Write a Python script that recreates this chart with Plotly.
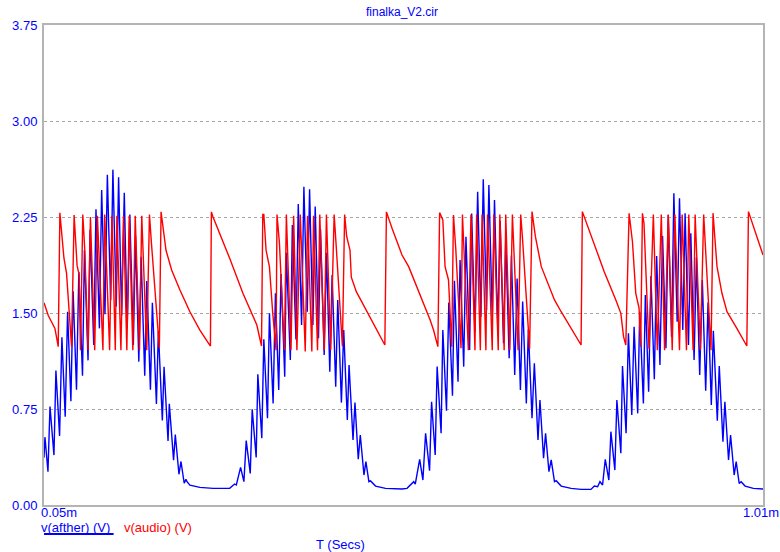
import plotly.graph_objects as go

# ---------------- data (time in ms, voltage in V) ----------------
# v(afther) - blue
blue_t_1 = [0.0500, 0.0513, 0.0553, 0.0580, 0.0633, 0.0659, 0.0708, 0.0739, 0.0783, 0.0815,
            0.0859, 0.0889, 0.0934, 0.0965, 0.1014, 0.1040, 0.1088, 0.1115, 0.1164, 0.1194,
            0.1240, 0.1270, 0.1314, 0.1346, 0.1390, 0.1420, 0.1465, 0.1496, 0.1536, 0.1572,
            0.1611, 0.1646, 0.1693, 0.1722, 0.1766, 0.1797, 0.1845, 0.1872, 0.1921, 0.1947,
            0.2001, 0.2027, 0.2080, 0.2103, 0.2156, 0.2173, 0.2230, 0.2253, 0.2302, 0.2329,
            0.2372, 0.2395, 0.2412, 0.2448, 0.2581, 0.2757]
blue_v_1 = [0.37, 0.53, 0.26, 0.77, 0.39, 1.05, 0.54, 1.31, 0.69, 1.51,
            0.81, 1.67, 0.90, 1.82, 1.01, 1.99, 1.13, 2.15, 1.25, 2.31,
            1.38, 2.46, 1.49, 2.58, 1.60, 2.62, 1.55, 2.56, 1.48, 2.44,
            1.38, 2.27, 1.25, 2.10, 1.12, 1.94, 1.01, 1.75, 0.90, 1.58,
            0.79, 1.36, 0.66, 1.08, 0.50, 0.79, 0.35, 0.55, 0.24, 0.34,
            0.17, 0.20, 0.18, 0.155, 0.138, 0.130]

blue_t_2 = [0.2979, 0.3045, 0.3068, 0.3125, 0.3169, 0.3200, 0.3254, 0.3280, 0.3333, 0.3355,
            0.3408, 0.3435, 0.3484, 0.3510, 0.3559, 0.3590, 0.3634, 0.3665, 0.3714, 0.3736,
            0.3789, 0.3816, 0.3864, 0.3895, 0.3939, 0.3970, 0.4015, 0.4046, 0.4090, 0.4121,
            0.4165, 0.4192, 0.4241, 0.4272, 0.4316, 0.4347, 0.4395, 0.4422, 0.4471, 0.4502,
            0.4550, 0.4573, 0.4626, 0.4652, 0.4696, 0.4723, 0.4772, 0.4798, 0.4838, 0.4860,
            0.4927, 0.5060, 0.5281]
blue_v_2 = [0.130, 0.164, 0.156, 0.294, 0.182, 0.503, 0.247, 0.747, 0.372, 1.021,
            0.521, 1.294, 0.677, 1.497, 0.794, 1.654, 0.898, 1.805, 1.003, 1.971,
            1.133, 2.187, 1.294, 2.351, 1.406, 2.487, 1.510, 2.466, 1.406, 2.331,
            1.302, 2.154, 1.172, 1.971, 1.042, 1.797, 0.924, 1.602, 0.800, 1.367,
            0.664, 1.094, 0.508, 0.800, 0.357, 0.547, 0.234, 0.339, 0.182, 0.188,
            0.148, 0.130, 0.125]

blue_t_3 = [0.5347, 0.5436, 0.5457, 0.5516, 0.5559, 0.5595, 0.5648, 0.5675, 0.5723, 0.5749,
            0.5802, 0.5825, 0.5874, 0.5905, 0.5954, 0.5980, 0.6028, 0.6055, 0.6104, 0.6134,
            0.6183, 0.6210, 0.6254, 0.6290, 0.6333, 0.6365, 0.6409, 0.6440, 0.6485, 0.6515,
            0.6559, 0.6591, 0.6635, 0.6665, 0.6711, 0.6741, 0.6785, 0.6817, 0.6861, 0.6891,
            0.6940, 0.6967, 0.7016, 0.7047, 0.7096, 0.7122, 0.7170, 0.7197, 0.7242, 0.7272,
            0.7316, 0.7339, 0.7405, 0.7538]
blue_v_3 = [0.130, 0.182, 0.164, 0.357, 0.195, 0.560, 0.268, 0.807, 0.391, 1.081,
            0.560, 1.367, 0.737, 1.581, 0.854, 1.752, 0.963, 1.914, 1.081, 2.096,
            1.211, 2.278, 1.354, 2.448, 1.471, 2.544, 1.523, 2.500, 1.471, 2.383,
            1.380, 2.220, 1.263, 2.080, 1.146, 1.950, 1.016, 1.770, 0.898, 1.590,
            0.794, 1.370, 0.677, 1.107, 0.508, 0.820, 0.365, 0.560, 0.260, 0.352,
            0.182, 0.190, 0.148, 0.130]

blue_t_4 = [0.7671, 0.7803, 0.7848, 0.7892, 0.7923, 0.7958, 0.7994, 0.8042, 0.8069, 0.8122,
            0.8149, 0.8202, 0.8224, 0.8272, 0.8303, 0.8348, 0.8379, 0.8427, 0.8454, 0.8503,
            0.8529, 0.8573, 0.8604, 0.8649, 0.8680, 0.8724, 0.8759, 0.8804, 0.8835, 0.8879,
            0.8910, 0.8954, 0.8985, 0.9029, 0.9060, 0.9105, 0.9136, 0.9180, 0.9211, 0.9255,
            0.9290, 0.9335, 0.9366, 0.9410, 0.9437, 0.9490, 0.9516, 0.9565, 0.9591, 0.9640,
            0.9667, 0.9715, 0.9742, 0.9782, 0.9808, 0.9861, 0.9972, 1.0100]
blue_v_4 = [0.122, 0.122, 0.148, 0.143, 0.182, 0.156, 0.357, 0.195, 0.573, 0.273,
            0.820, 0.404, 1.086, 0.560, 1.341, 0.703, 1.393, 0.716, 1.510, 0.794,
            1.641, 0.885, 1.789, 0.982, 1.945, 1.094, 2.102, 1.224, 2.266, 1.315,
            2.435, 1.432, 2.396, 1.367, 2.279, 1.250, 2.122, 1.133, 1.935, 1.016,
            1.758, 0.893, 1.581, 0.781, 1.362, 0.659, 1.086, 0.495, 0.807, 0.352,
            0.547, 0.234, 0.339, 0.169, 0.182, 0.148, 0.130, 0.125]

# v(audio) - red
red_t_1 = [0.0500, 0.0557, 0.0646, 0.0690, 0.0712, 0.0766, 0.0801, 0.0832, 0.0868, 0.0902,
           0.0942, 0.0969, 0.0987, 0.1018, 0.1044, 0.1088, 0.1120, 0.1177, 0.1213, 0.1287,
           0.1310, 0.1376, 0.1407, 0.1452, 0.1473, 0.1527, 0.1562, 0.1606, 0.1638, 0.1686,
           0.1718, 0.1775, 0.1805, 0.1872, 0.1908, 0.1934, 0.1987, 0.2040]
red_v_1 = [1.58, 1.48, 1.38, 1.237, 2.283, 1.93, 1.81, 1.55, 1.237, 2.266,
           1.87, 1.80, 1.21, 2.27, 2.00, 1.21, 2.25, 1.21, 2.26, 1.21,
           2.27, 1.21, 2.26, 1.21, 2.26, 1.21, 2.26, 1.21, 2.26, 1.21,
           2.26, 1.21, 2.26, 1.21, 2.27, 2.05, 1.65, 1.227]

red_t_2 = [0.2063, 0.2093, 0.2129, 0.2204, 0.2315, 0.2448, 0.2581, 0.2722, 0.2735, 0.2757,
           0.2979, 0.3156, 0.3289, 0.3342, 0.3368, 0.3404, 0.3421, 0.3435, 0.3465, 0.3510,
           0.3554, 0.3598, 0.3611, 0.3643, 0.3710, 0.3736, 0.3797, 0.3833, 0.3877, 0.3922,
           0.3988, 0.4019, 0.4076, 0.4099, 0.4152, 0.4182, 0.4241, 0.4271, 0.4328, 0.4374,
           0.4404, 0.4484]
red_v_2 = [2.29, 2.148, 1.99, 1.836, 1.68, 1.51, 1.367, 1.242, 2.29, 2.25,
           1.927, 1.654, 1.471, 1.406, 1.336, 1.242, 2.27, 2.27, 1.99, 1.86,
           1.50, 1.21, 2.27, 2.05, 1.21, 2.27, 1.21, 2.26, 1.21, 2.27,
           1.20, 2.26, 1.20, 2.26, 1.21, 2.27, 1.21, 2.27, 1.21, 2.27,
           2.00, 1.24]

red_t_3 = [0.4514, 0.4541, 0.4586, 0.4603, 0.4670, 0.4926, 0.5051, 0.5072, 0.5148, 0.5280,
           0.5369, 0.5656, 0.5701, 0.5759, 0.5782, 0.5825, 0.5855, 0.5901, 0.5944, 0.5967,
           0.5998, 0.6068, 0.6087, 0.6166, 0.6201, 0.6254, 0.6276, 0.6326, 0.6349, 0.6400,
           0.6422, 0.6485, 0.6506, 0.6565, 0.6586, 0.6644, 0.6665, 0.6719, 0.6754, 0.6830,
           0.6865, 0.6887, 0.6927, 0.6984]
red_v_3 = [2.27, 2.10, 1.99, 1.78, 1.667, 1.393, 1.25, 2.29, 2.16, 1.953,
           1.862, 1.445, 1.367, 1.237, 2.284, 2.227, 1.862, 1.758, 1.237, 2.266,
           2.00, 1.224, 2.27, 1.21, 2.27, 1.21, 2.27, 1.21, 2.27, 1.21,
           2.27, 1.21, 2.27, 1.21, 2.27, 1.21, 2.27, 1.21, 2.27, 1.21,
           2.27, 2.10, 1.75, 1.22]

red_t_4 = [0.7016, 0.7060, 0.7140, 0.7316, 0.7405, 0.7538, 0.7671, 0.7688, 0.7847, 0.7980,
           0.8135, 0.8202, 0.8238, 0.8268, 0.8312, 0.8357, 0.8401, 0.8445, 0.8467, 0.8490,
           0.8511, 0.8578, 0.8636, 0.8689, 0.8742, 0.8786, 0.8835, 0.8888, 0.8923, 0.8985,
           0.9021, 0.9078, 0.9109, 0.9167, 0.9194, 0.9264, 0.9308, 0.9406, 0.9433, 0.9486,
           0.9552, 0.9619, 0.9751, 0.9884, 0.9906, 1.0100]
red_v_4 = [2.292, 2.10, 1.862, 1.602, 1.51, 1.38, 1.25, 2.292, 2.031, 1.823,
           1.602, 1.497, 1.315, 1.25, 2.279, 2.057, 1.654, 1.539, 1.237, 2.279,
           2.20, 1.22, 2.27, 1.21, 2.27, 1.21, 2.27, 1.21, 2.27, 1.21,
           2.27, 1.21, 2.27, 1.21, 2.27, 1.21, 2.27, 1.21, 2.28, 1.862,
           1.654, 1.51, 1.38, 1.242, 2.292, 1.953]

y_ticks = [0.0, 0.75, 1.5, 2.25, 3.0, 3.75]
x_range = [0.05, 1.01]
x_tick_labels = ["0.05m", "1.01m"]
title_text = "finalka_V2.cir"
series_names = ["v(afther) (V)", "v(audio) (V)"]
x_title = "T (Secs)"

blue_t = blue_t_1 + blue_t_2 + blue_t_3 + blue_t_4
blue_v = blue_v_1 + blue_v_2 + blue_v_3 + blue_v_4
red_t = red_t_1 + red_t_2 + red_t_3 + red_t_4
red_v = red_v_1 + red_v_2 + red_v_3 + red_v_4

BLUE = "#0000ff"
RED = "#ff0000"
FONT = "Arial, Liberation Sans, sans-serif"

fig = go.Figure()
fig.add_trace(go.Scatter(x=blue_t, y=blue_v, mode="lines", name=series_names[0],
                         line=dict(color=BLUE, width=1.4)))
fig.add_trace(go.Scatter(x=red_t, y=red_v, mode="lines", name=series_names[1],
                         line=dict(color=RED, width=1.4)))

fig.update_layout(
    width=780, height=552,
    margin=dict(l=40, r=17, t=25, b=47),
    paper_bgcolor="white", plot_bgcolor="white",
    showlegend=False,
    font=dict(family=FONT, size=13, color=BLUE),
)
fig.update_xaxes(range=x_range, showgrid=False, zeroline=False, showticklabels=False,
                 ticks="", showline=True, mirror=True, linecolor="#b4b4b4", linewidth=2)
fig.update_yaxes(range=[0, 3.75], tickvals=y_ticks, tickformat=".2f",
                 tickfont=dict(family=FONT, size=13, color=BLUE),
                 showgrid=True, gridcolor="#a6a6a6", griddash="dot", gridwidth=1,
                 zeroline=False, ticks="", ticklabelstandoff=2,
                 showline=True, mirror=True, linecolor="#b4b4b4", linewidth=2)

PW, PH = 723.0, 480.0  # plot area size in px
def px(xp):
    return (xp - 40) / PW
def py(yp):
    return (505 - yp) / PH

ann = [
    dict(text=title_text, x=px(400), y=py(12), xanchor="center", yanchor="middle",
         font=dict(size=12, color=BLUE)),
    dict(text=x_tick_labels[0], x=px(35), y=py(512), xanchor="left", yanchor="middle",
         font=dict(size=13, color=BLUE)),
    dict(text=x_tick_labels[1], x=px(741), y=py(512), xanchor="left", yanchor="middle",
         font=dict(size=13, color=BLUE)),
    dict(text=series_names[0], x=px(35), y=py(527), xanchor="left", yanchor="middle",
         font=dict(size=13, color=BLUE)),
    dict(text=series_names[1], x=px(118), y=py(527), xanchor="left", yanchor="middle",
         font=dict(size=13, color=RED)),
    dict(text=x_title, x=px(338), y=py(544), xanchor="center", yanchor="middle",
         font=dict(size=13, color=BLUE)),
]
for a in ann:
    a.update(xref="paper", yref="paper", showarrow=False)
fig.update_layout(annotations=ann)

fig.add_shape(type="line", xref="paper", yref="paper",
              x0=px(40), x1=px(110), y0=py(534), y1=py(534),
              line=dict(color=BLUE, width=2))

fig.write_html("out.html")
